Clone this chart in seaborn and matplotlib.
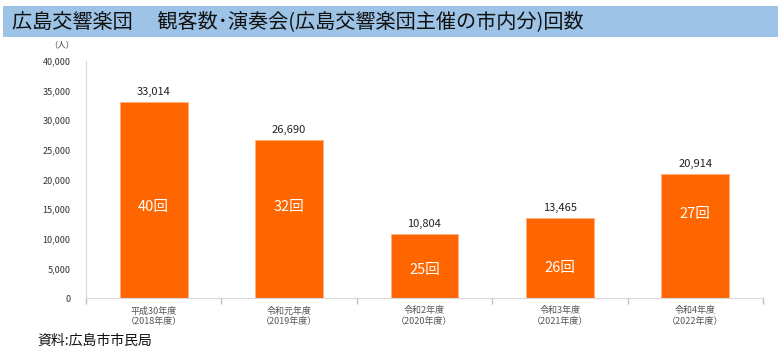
import pandas as pd
import matplotlib.pyplot as plt
import seaborn as sns
from matplotlib.patches import Rectangle

# data
years = ['平成30年度\n（2018年度）', '令和元年度\n（2019年度）', '令和2年度\n（2020年度）',
         '令和3年度\n（2021年度）', '令和4年度\n（2022年度）']
audience = [33014, 26690, 10804, 13465, 20914]
concerts = [40, 32, 25, 26, 27]

df = pd.DataFrame({'year': years, 'audience': audience, 'concerts': concerts})

# where the "回" labels sit inside the bars (y in data units, as placed in the original)
inner_label_y = [15300, 15300, 4700, 5000, 14100]

sns.set_theme(style="white")
plt.rcParams['font.family'] = ['Noto Sans CJK JP', 'DejaVu Sans']

fig = plt.figure(figsize=(7.83, 3.56), dpi=100)

# title banner
fig.patches.append(Rectangle((3 / 783, 1 - 37 / 356), 775 / 783, 31 / 356,
                             transform=fig.transFigure, facecolor='#9DC3E6',
                             edgecolor='none', zorder=0))
fig.text(12 / 783, 1 - 21.5 / 356, '広島交響楽団　 観客数･演奏会(広島交響楽団主催の市内分)回数',
         fontsize=14.5, va='center', ha='left', color='#111111')

ax = fig.add_axes([86 / 783, 1 - 298 / 356, (763 - 86) / 783, (298 - 61) / 356])
sns.barplot(data=df, x='year', y='audience', color='#FF6600', width=0.5,
            saturation=1, edgecolor='#FFB080', linewidth=0.6, ax=ax)

ax.set_ylim(0, 40000)
ax.set_yticks(range(0, 40001, 5000))
ax.set_yticklabels([f'{v:,}' for v in range(0, 40001, 5000)], fontsize=6.5, color='#333333')
ax.set_xlim(-0.5, 4.5)
ax.set_xlabel('')
ax.set_ylabel('')
ax.tick_params(axis='x', labelsize=6.5, colors='#555555', length=0, pad=6)
ax.tick_params(axis='y', length=3, color='#D9D9D9', pad=8)
ax.set_xticks([i + 0.5 for i in range(-1, 5)], minor=True)
ax.tick_params(axis='x', which='minor', length=4, color='#BFBFBF', bottom=True)

for s in ['top', 'right']:
    ax.spines[s].set_visible(False)
for s in ['left', 'bottom']:
    ax.spines[s].set_color('#D9D9D9')
    ax.spines[s].set_linewidth(0.8)

for i, (v, c) in enumerate(zip(audience, concerts)):
    ax.text(i, v + 900, f'{v:,}', ha='center', va='bottom', fontsize=8, color='#222222')
    ax.text(i, inner_label_y[i], f'{c}回', ha='center', va='center', fontsize=10.5, color='white')

fig.text(62 / 783, 1 - 45 / 356, '（人）', fontsize=6, ha='center', va='center', color='#444444')
fig.text(37 / 783, 1 - 341 / 356, '資料:広島市市民局', fontsize=10, ha='left', va='center',
         color='#111111')

fig.savefig('out.png', dpi=100)
